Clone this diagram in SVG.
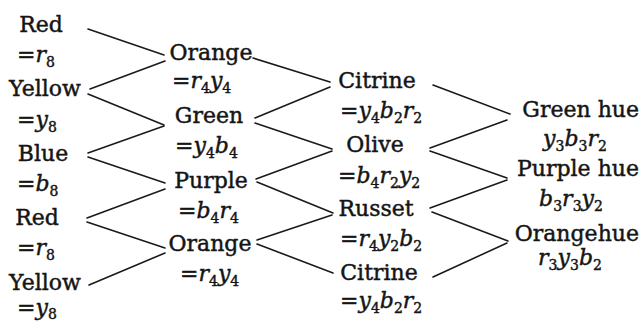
<svg xmlns="http://www.w3.org/2000/svg" width="642" height="323" viewBox="0 0 642 323">
<style>
text{font-family:"DejaVu Serif","Liberation Serif",serif;font-size:22px;fill:#151515;stroke:#151515;stroke-width:0.45}
.m{text-anchor:middle}
.e{text-anchor:end}
.i{font-style:italic}
.s{font-size:14px}
#connectors line{stroke:#1a1a1a;stroke-width:1.6;stroke-linecap:round}
</style>
<rect width="642" height="323" fill="#fff"/>
<g id="connectors">
<line x1="88" y1="29" x2="164" y2="55"/>
<line x1="90" y1="89" x2="165" y2="61"/>
<line x1="88" y1="94" x2="164" y2="125"/>
<line x1="88" y1="153" x2="164" y2="126"/>
<line x1="88" y1="157" x2="165" y2="183"/>
<line x1="87" y1="218" x2="165" y2="189"/>
<line x1="87" y1="222" x2="165" y2="248"/>
<line x1="89" y1="285" x2="165" y2="253"/>
<line x1="253" y1="58" x2="330" y2="82"/>
<line x1="255" y1="118" x2="330" y2="87"/>
<line x1="255" y1="123" x2="332" y2="149"/>
<line x1="256" y1="179" x2="332" y2="151"/>
<line x1="257" y1="182" x2="333" y2="213"/>
<line x1="257" y1="240" x2="332" y2="215"/>
<line x1="257" y1="244" x2="333" y2="273"/>
<line x1="433" y1="85" x2="510" y2="114"/>
<line x1="430" y1="148" x2="507" y2="120"/>
<line x1="430" y1="151" x2="507" y2="178"/>
<line x1="430" y1="208" x2="507" y2="180"/>
<line x1="432" y1="212" x2="508" y2="241"/>
<line x1="433" y1="277" x2="507" y2="243"/>
</g>
<g id="red1"><text class="m" x="41" y="32">Red</text><text x="17" y="62">=<tspan class="i">r</tspan><tspan class="s" dy="5">8</tspan></text></g>
<g id="yellow1"><text class="m" x="45" y="96">Yellow</text><text x="17" y="127">=<tspan class="i">y</tspan><tspan class="s" dy="5">8</tspan></text></g>
<g id="blue"><text class="m" x="43" y="161">Blue</text><text x="17" y="191">=<tspan class="i">b</tspan><tspan class="s" dy="5">8</tspan></text></g>
<g id="red2"><text class="m" x="37" y="225">Red</text><text x="17" y="255">=<tspan class="i">r</tspan><tspan class="s" dy="5">8</tspan></text></g>
<g id="yellow2"><text class="m" x="45" y="290">Yellow</text><text x="17" y="315">=<tspan class="i">y</tspan><tspan class="s" dy="4">8</tspan></text></g>
<g id="orange1"><text class="m" x="211" y="60">Orange</text><text x="172" y="88">=<tspan class="i">r</tspan><tspan class="s" dy="5">4</tspan><tspan class="i" dy="-5">y</tspan><tspan class="s" dy="5">4</tspan></text></g>
<g id="green"><text class="m" x="209" y="123">Green</text><text x="175" y="153">=<tspan class="i">y</tspan><tspan class="s" dy="5">4</tspan><tspan class="i" dy="-5">b</tspan><tspan class="s" dy="5">4</tspan></text></g>
<g id="purple"><text class="m" x="211" y="188">Purple</text><text x="178" y="218">=<tspan class="i">b</tspan><tspan class="s" dy="5">4</tspan><tspan class="i" dy="-5">r</tspan><tspan class="s" dy="5">4</tspan></text></g>
<g id="orange2"><text class="m" x="210" y="251">Orange</text><text x="180" y="281">=<tspan class="i">r</tspan><tspan class="s" dy="5">4</tspan><tspan class="i" dy="-5">y</tspan><tspan class="s" dy="5">4</tspan></text></g>
<g id="citrine1"><text class="m" x="377" y="88">Citrine</text><text x="340" y="118">=<tspan class="i">y</tspan><tspan class="s" dy="5">4</tspan><tspan class="i" dy="-5">b</tspan><tspan class="s" dy="5">2</tspan><tspan class="i" dy="-5">r</tspan><tspan class="s" dy="5">2</tspan></text></g>
<g id="olive"><text class="m" x="375" y="152">Olive</text><text x="338" y="183">=<tspan class="i">b</tspan><tspan class="s" dy="5">4</tspan><tspan class="i" dy="-5">r</tspan><tspan class="s" dy="5">2</tspan><tspan class="i" dy="-5">y</tspan><tspan class="s" dy="5">2</tspan></text></g>
<g id="russet"><text class="m" x="376" y="216">Russet</text><text x="340" y="246">=<tspan class="i">r</tspan><tspan class="s" dy="5">4</tspan><tspan class="i" dy="-5">y</tspan><tspan class="s" dy="5">2</tspan><tspan class="i" dy="-5">b</tspan><tspan class="s" dy="5">2</tspan></text></g>
<g id="citrine2"><text class="m" x="379" y="280">Citrine</text><text x="340" y="308">=<tspan class="i">y</tspan><tspan class="s" dy="5">4</tspan><tspan class="i" dy="-5">b</tspan><tspan class="s" dy="5">2</tspan><tspan class="i" dy="-5">r</tspan><tspan class="s" dy="5">2</tspan></text></g>
<g id="greenhue"><text class="e" x="639" y="117">Green hue</text><text class="m" x="575" y="146"><tspan class="i">y</tspan><tspan class="s" dy="5">3</tspan><tspan class="i" dy="-5">b</tspan><tspan class="s" dy="5">3</tspan><tspan class="i" dy="-5">r</tspan><tspan class="s" dy="5">2</tspan></text></g>
<g id="purplehue"><text class="e" x="639" y="176">Purple hue</text><text class="m" x="571" y="206"><tspan class="i">b</tspan><tspan class="s" dy="5">3</tspan><tspan class="i" dy="-5">r</tspan><tspan class="s" dy="5">3</tspan><tspan class="i" dy="-5">y</tspan><tspan class="s" dy="5">2</tspan></text></g>
<g id="orangehue"><text class="e" x="639" y="241">Orangehue</text><text class="m" x="570" y="265"><tspan class="i">r</tspan><tspan class="s" dy="5">3</tspan><tspan class="i" dy="-5">y</tspan><tspan class="s" dy="5">3</tspan><tspan class="i" dy="-5">b</tspan><tspan class="s" dy="5">2</tspan></text></g>
</svg>
